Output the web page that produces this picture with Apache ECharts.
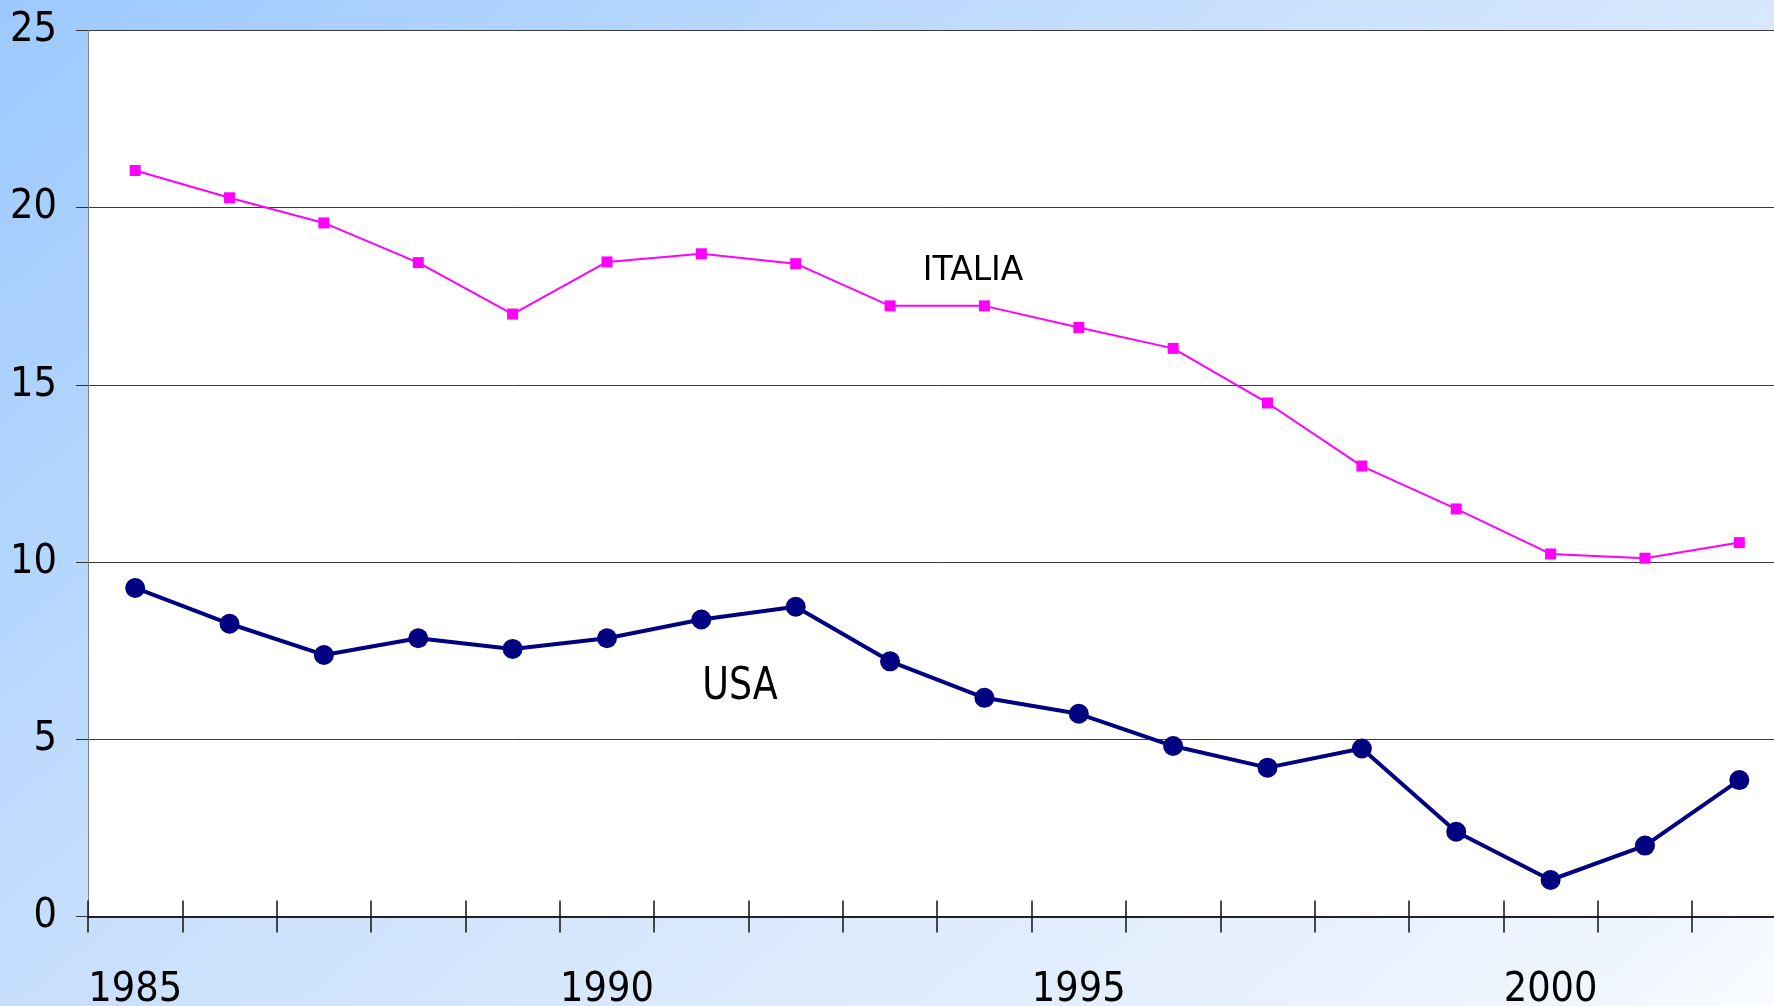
<!DOCTYPE html>
<html>
<head>
<meta charset="utf-8">
<script src="https://cdn.jsdelivr.net/npm/echarts@6/dist/echarts.min.js"></script>
<style>
html,body{margin:0;padding:0;width:1774px;height:1006px;overflow:hidden;}
#chart{width:1800px;height:1006px;}
</style>
</head>
<body>
<div id="chart"></div>
<script>
// ---- data ----
var years = ['1985','1986','1987','1988','1989','1990','1991','1992','1993','1994','1995','1996','1997','1998','1999','2000','2001','2002'];
var italia = [21.05, 20.28, 19.57, 18.45, 17.0, 18.47, 18.70, 18.42, 17.23, 17.23, 16.62, 16.03, 14.49, 12.71, 11.50, 10.23, 10.11, 10.55];
var usa = [9.27, 8.26, 7.38, 7.85, 7.55, 7.85, 8.38, 8.74, 7.20, 6.17, 5.72, 4.81, 4.20, 4.74, 2.39, 1.03, 2.00, 3.85];
var yTicks = [0, 5, 10, 15, 20, 25];
var seriesNames = ['ITALIA', 'USA'];

var narrow = "'Liberation Sans Narrow', 'DejaVu Sans Condensed', sans-serif";

var chart = echarts.init(document.getElementById('chart'), null, {renderer: 'canvas'});

var bgGradient = new echarts.graphic.LinearGradient(0, 0, 1222, 1466, [
  {offset: 0, color: '#9cc9fe'},
  {offset: 0.215, color: '#b2d5fe'},
  {offset: 0.405, color: '#c7dffd'},
  {offset: 0.595, color: '#d8e8fc'},
  {offset: 0.784, color: '#e5effd'},
  {offset: 0.936, color: '#f0f6ff'},
  {offset: 1, color: '#fafcff'}
], true);

var option = {
  animation: false,
  backgroundColor: 'transparent',
  grid: {
    left: 88, top: 30.5, width: 1698.5, height: 886,
    outerBoundsMode: 'none', containLabel: false,
    show: true, backgroundColor: '#ffffff', borderWidth: 0
  },
  xAxis: [{
    type: 'category', data: years, position: 'bottom', boundaryGap: true,
    axisLine: {show: true, lineStyle: {color: '#222', width: 2}},
    axisTick: {show: true, interval: 0, length: 16, lineStyle: {color: '#111', width: 1.5}},
    axisLabel: {show: true, interval: 4, margin: 53, fontSize: 41, color: '#000', fontFamily: narrow},
    splitLine: {show: false}
  }, {
    type: 'category', data: years, position: 'bottom', offset: 0, boundaryGap: true,
    axisLine: {show: false},
    axisTick: {show: true, inside: true, interval: 0, length: 16, lineStyle: {color: '#111', width: 1.5}},
    axisLabel: {show: false},
    splitLine: {show: false}
  }],
  yAxis: {
    type: 'value', min: yTicks[0], max: yTicks[yTicks.length - 1], interval: 5,
    axisLine: {show: true, lineStyle: {color: '#808080', width: 1}},
    axisTick: {show: true, length: 12, lineStyle: {color: '#333', width: 1}},
    axisLabel: {margin: 31, fontSize: 41, color: '#000', fontFamily: narrow},
    splitLine: {show: true, lineStyle: {color: '#3a3a3a', width: 1}}
  },
  series: [{
    name: seriesNames[0], type: 'line', data: italia,
    symbol: 'rect', symbolSize: 11,
    lineStyle: {color: '#ff00ff', width: 2},
    itemStyle: {color: '#ff00ff'},
    z: 3
  }, {
    name: seriesNames[1], type: 'line', data: usa,
    symbol: 'circle', symbolSize: 20,
    lineStyle: {color: '#000080', width: 4},
    itemStyle: {color: '#000080'},
    z: 4
  }]
};
chart.setOption(option);

// series name annotations, anchored in data space
function place(catIdx, frac, val) {
  var a = chart.convertToPixel({xAxisIndex: 0, yAxisIndex: 0}, [catIdx, val]);
  var b = chart.convertToPixel({xAxisIndex: 0, yAxisIndex: 0}, [catIdx + 1, val]);
  return [a[0] + frac * (b[0] - a[0]), a[1]];
}
var pI = place(8, 0.88, 18.2);
var pU = place(6, 0.41, 6.46);
chart.setOption({
  graphic: [{
    type: 'rect', z: -100, silent: true,
    shape: {x: 0, y: 0, width: 1800, height: 1006},
    style: {fill: bgGradient}
  }, {
    type: 'text', z: 10, x: pI[0], y: pI[1],
    style: {text: seriesNames[0], fontSize: 33, fontFamily: "'DejaVu Sans', Verdana, sans-serif", fill: '#000', align: 'center', verticalAlign: 'middle'}
  }, {
    type: 'text', z: 10, x: pU[0], y: pU[1], scaleX: 0.9,
    style: {text: seriesNames[1], fontSize: 45, fontFamily: narrow, fill: '#000', align: 'center', verticalAlign: 'middle'}
  }]
});
</script>
</body>
</html>
